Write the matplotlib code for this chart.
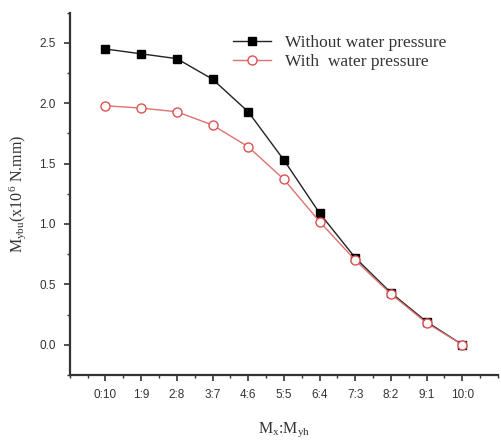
import matplotlib
matplotlib.use("Agg")
import matplotlib.pyplot as plt
from matplotlib.ticker import MultipleLocator

plt.rcParams["mathtext.fontset"] = "custom"
plt.rcParams["mathtext.rm"] = "Liberation Serif"
plt.rcParams["mathtext.it"] = "Liberation Serif"

categories = ["0:10", "1:9", "2:8", "3:7", "4:6", "5:5", "6:4", "7:3", "8:2", "9:1", "10:0"]
without_wp = [2.45, 2.41, 2.37, 2.20, 1.93, 1.53, 1.09, 0.72, 0.43, 0.19, 0.00]
with_wp = [1.98, 1.96, 1.93, 1.82, 1.64, 1.37, 1.02, 0.70, 0.42, 0.18, 0.00]
y_ticks = [0.0, 0.5, 1.0, 1.5, 2.0, 2.5]

fig = plt.figure(figsize=(5.02, 4.41), dpi=100)
ax = fig.add_axes([0.139, 0.150, 0.853, 0.821])

x = list(range(len(categories)))
ax.plot(x, without_wp, color="#222222", lw=1.0, marker="s", ms=5.5,
        mfc="black", mec="black", label="Without water pressure")
ax.plot(x, with_wp, color="#e07070", lw=1.0, marker="o", ms=6.5,
        mfc="white", mec="#e05050", mew=1.0, label="With  water pressure")

ax.set_xlim(-1, 11)
ax.set_ylim(-0.25, 2.75)
ax.set_xticks(x)
ax.set_xticklabels(categories)
ax.xaxis.set_minor_locator(MultipleLocator(0.5))
ax.set_yticks(y_ticks)
ax.set_yticklabels([f"{v:.1f}" for v in y_ticks])
ax.yaxis.set_minor_locator(MultipleLocator(0.25))

for s in ["top", "right"]:
    ax.spines[s].set_visible(False)
for s in ["left", "bottom"]:
    ax.spines[s].set_linewidth(1.6)
    ax.spines[s].set_color("#333333")

ax.tick_params(axis="both", which="major", direction="out", length=4, width=1.2,
               color="#333333", labelsize=8.5, labelcolor="#333333", pad=6)
ax.tick_params(axis="both", which="minor", direction="out", length=2.5, width=1.0,
               color="#333333")
for lab in ax.get_xticklabels() + ax.get_yticklabels():
    lab.set_fontfamily("Liberation Sans")

ax.set_xlabel("M$_{x}$:M$_{yh}$", fontfamily="Liberation Serif", fontsize=11.5,
              color="#333333", labelpad=14)
ax.set_ylabel("M$_{ybu}$(x10$^{6}$ N.mm)", fontfamily="Liberation Serif", fontsize=11.5,
              color="#333333", labelpad=8)

leg = ax.legend(loc="upper left", bbox_to_anchor=(0.345, 0.982), frameon=False,
                prop={"family": "Liberation Serif", "size": 12.5},
                handlelength=2.2, handletextpad=0.8, labelspacing=0.15)
for t in leg.get_texts():
    t.set_color("#333333")

fig.savefig("out.png", dpi=100)
